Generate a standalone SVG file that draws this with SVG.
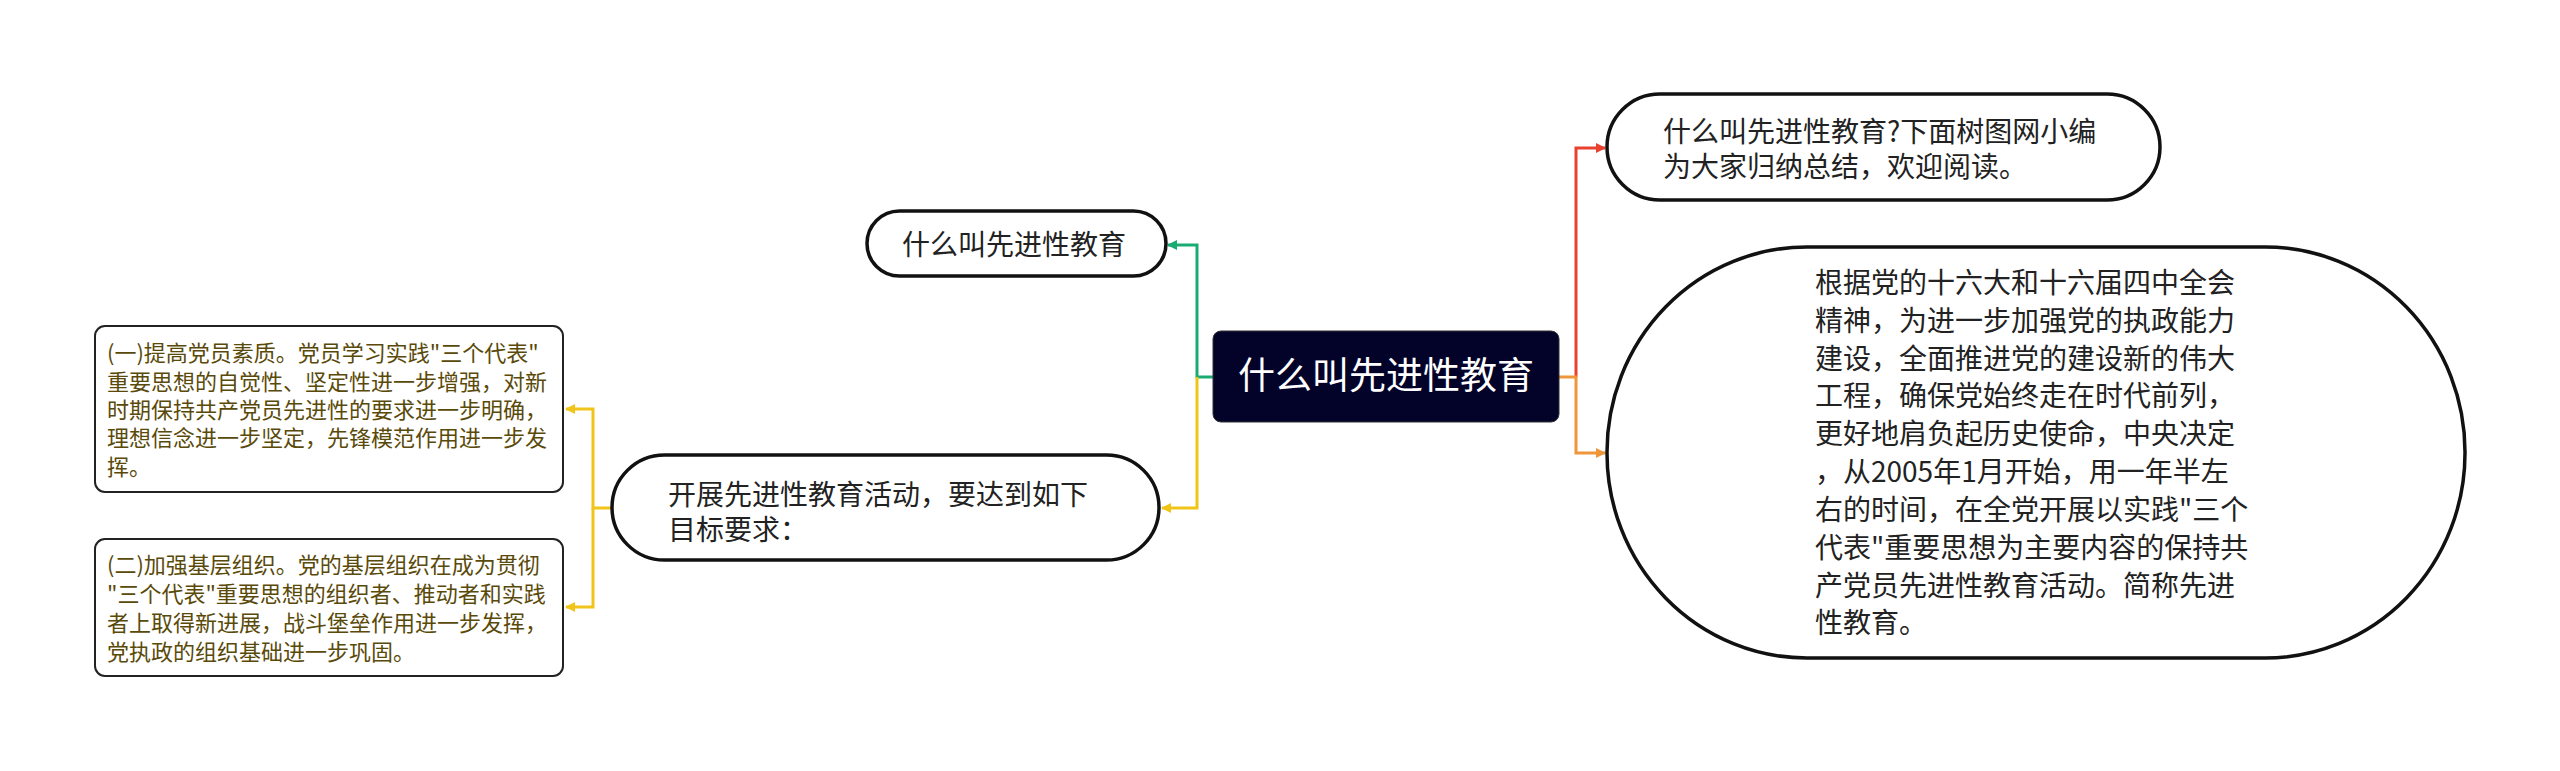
<svg xmlns="http://www.w3.org/2000/svg" width="2560" height="771" viewBox="0 0 2560 771">
<style>
text{font-family:"Noto Sans CJK SC","Noto Sans",sans-serif;}
.pill{fill:#fff;stroke:#111;stroke-width:3.5;}
.box{fill:#fff;stroke:#222;stroke-width:2;}
.t28{font-size:28px;fill:#222;}
.t22{font-size:22px;fill:#5a4a0a;}
.tc{font-size:37px;fill:#fff;}
.c{fill:none;stroke-width:3;}
</style>
<defs>
<marker id="aR" markerWidth="10" markerHeight="10" refX="9" refY="5" orient="auto" markerUnits="userSpaceOnUse"><path d="M0,0 L10,5 L0,10 Z" fill="#e8412f"/></marker>
<marker id="aO" markerWidth="10" markerHeight="10" refX="9" refY="5" orient="auto" markerUnits="userSpaceOnUse"><path d="M0,0 L10,5 L0,10 Z" fill="#f0963a"/></marker>
<marker id="aG" markerWidth="10" markerHeight="10" refX="9" refY="5" orient="auto" markerUnits="userSpaceOnUse"><path d="M0,0 L10,5 L0,10 Z" fill="#19ab72"/></marker>
<marker id="aY" markerWidth="10" markerHeight="10" refX="9" refY="5" orient="auto" markerUnits="userSpaceOnUse"><path d="M0,0 L10,5 L0,10 Z" fill="#f0c419"/></marker>
</defs>
<rect width="2560" height="771" fill="#fff"/>
<g id="connectors">
<path class="c" stroke="#e8412f" d="M1576,377 V148 H1605" marker-end="url(#aR)"/>
<path class="c" stroke="#f0963a" d="M1559,377 H1576 V453 H1605" marker-end="url(#aO)"/>
<path class="c" stroke="#19ab72" d="M1213,377 H1197 V245 H1168" marker-end="url(#aG)"/>
<path class="c" stroke="#f0c419" d="M1197,377 V508 H1162" marker-end="url(#aY)"/>
<path class="c" stroke="#f0c419" d="M612,508 H593 V409 H566" marker-end="url(#aY)"/>
<path class="c" stroke="#f0c419" d="M593,508 V607 H566" marker-end="url(#aY)"/>
</g>
<g id="center">
<rect x="1213" y="331" width="346" height="91" rx="8" fill="#03032a" stroke="#333" stroke-width="1"/>
<text class="tc" x="1386" y="389" text-anchor="middle">什么叫先进性教育</text>
</g>
<g id="n-intro">
<rect class="pill" x="1607" y="94" width="553" height="106" rx="53"/>
<text class="t28" x="1663" y="142">什么叫先进性教育?下面树图网小编</text>
<text class="t28" x="1663" y="177">为大家归纳总结，欢迎阅读。</text>
</g>
<g id="n-def">
<rect class="pill" x="1607" y="247" width="858" height="411" rx="200" ry="205"/>
<text class="t28" x="1815" y="293">根据党的十六大和十六届四中全会</text>
<text class="t28" x="1815" y="331">精神，为进一步加强党的执政能力</text>
<text class="t28" x="1815" y="369">建设，全面推进党的建设新的伟大</text>
<text class="t28" x="1815" y="406">工程，确保党始终走在时代前列，</text>
<text class="t28" x="1815" y="444">更好地肩负起历史使命，中央决定</text>
<text class="t28" x="1815" y="482">，从2005年1月开始，用一年半左</text>
<text class="t28" x="1815" y="520">右的时间，在全党开展以实践"三个</text>
<text class="t28" x="1815" y="558">代表"重要思想为主要内容的保持共</text>
<text class="t28" x="1815" y="596">产党员先进性教育活动。简称先进</text>
<text class="t28" x="1815" y="633">性教育。</text>
</g>
<g id="n-title">
<rect class="pill" x="867" y="211" width="299" height="65" rx="32.5"/>
<text class="t28" x="902" y="255">什么叫先进性教育</text>
</g>
<g id="n-goal">
<rect class="pill" x="612" y="455" width="547" height="105" rx="52.5"/>
<text class="t28" x="668" y="505">开展先进性教育活动，要达到如下</text>
<text class="t28" x="668" y="540">目标要求：</text>
</g>
<g id="n-goal1">
<rect class="box" x="95" y="326" width="468" height="166" rx="10"/>
<text class="t22" x="107" y="361">(一)提高党员素质。党员学习实践"三个代表"</text>
<text class="t22" x="107" y="390">重要思想的自觉性、坚定性进一步增强，对新</text>
<text class="t22" x="107" y="418">时期保持共产党员先进性的要求进一步明确，</text>
<text class="t22" x="107" y="446">理想信念进一步坚定，先锋模范作用进一步发</text>
<text class="t22" x="107" y="475">挥。</text>
</g>
<g id="n-goal2">
<rect class="box" x="95" y="539" width="468" height="137" rx="10"/>
<text class="t22" x="107" y="573">(二)加强基层组织。党的基层组织在成为贯彻</text>
<text class="t22" x="107" y="602">"三个代表"重要思想的组织者、推动者和实践</text>
<text class="t22" x="107" y="631">者上取得新进展，战斗堡垒作用进一步发挥，</text>
<text class="t22" x="107" y="660">党执政的组织基础进一步巩固。</text>
</g>
</svg>
